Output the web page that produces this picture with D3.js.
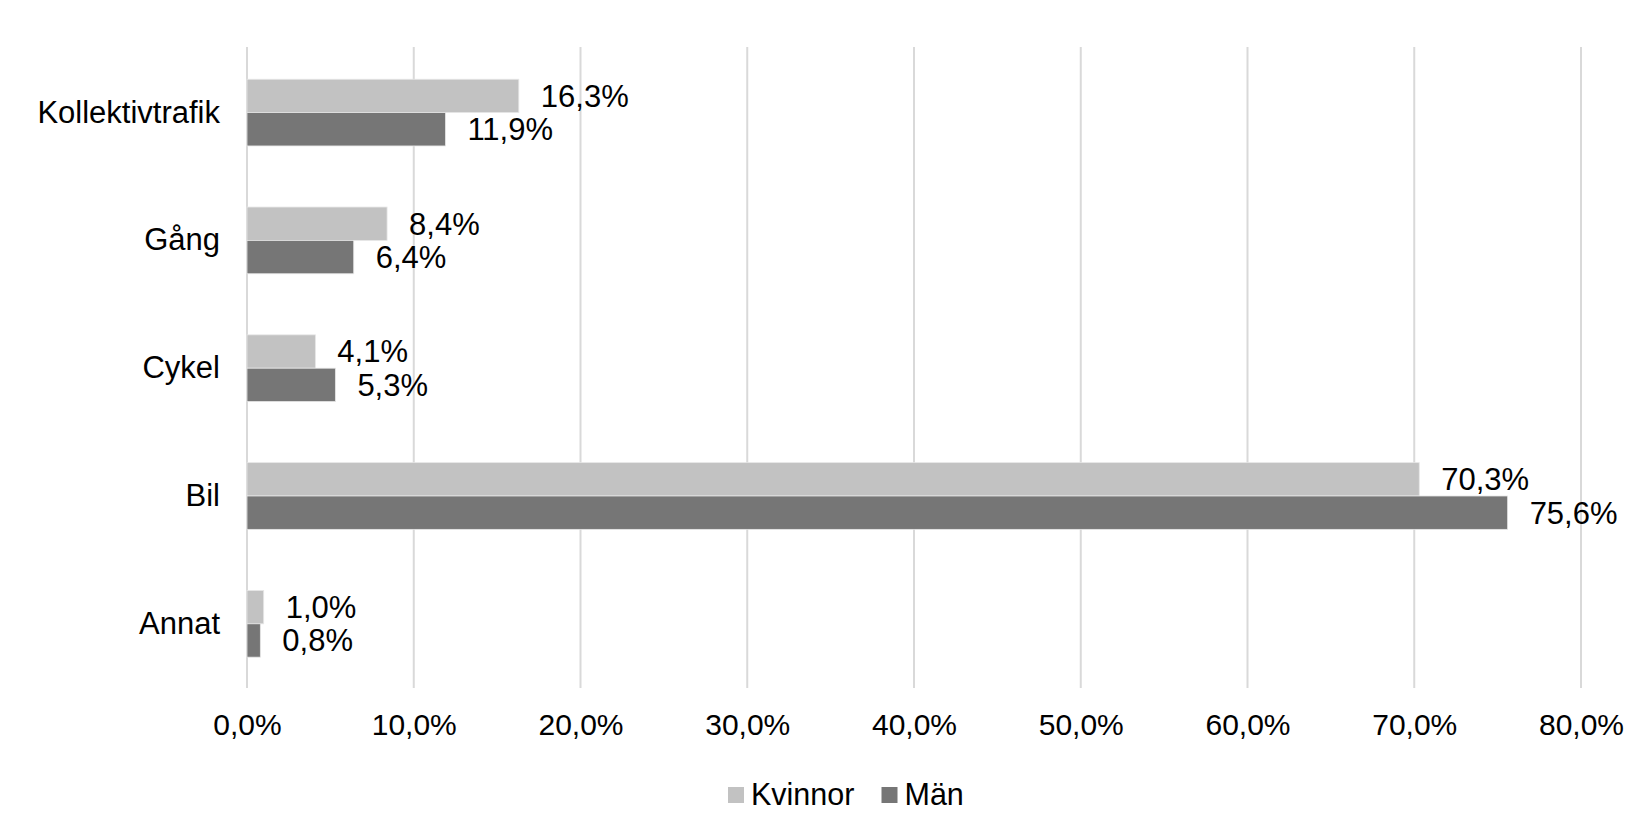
<!DOCTYPE html>
<html>
<head>
<meta charset="utf-8">
<script src="https://cdn.jsdelivr.net/npm/d3@7"></script>
<style>
  html, body { margin: 0; padding: 0; background: #fff; }
  svg { display: block; }
  text { font-family: "Liberation Sans", Arial, sans-serif; fill: #000; }
</style>
</head>
<body>
<svg id="chart" width="1635" height="834"></svg>
<script>
const categories = ["Kollektivtrafik", "Gång", "Cykel", "Bil", "Annat"];
const seriesNames = ["Kvinnor", "Män"];
const kvinnor = [0.163, 0.084, 0.041, 0.703, 0.010];
const man = [0.119, 0.064, 0.053, 0.756, 0.008];
const xTicks = [0, 0.1, 0.2, 0.3, 0.4, 0.5, 0.6, 0.7, 0.8];
const colors = ["#c2c2c2", "#767676"];

const seriesValues = [kvinnor, man];
const svg = d3.select("#chart");
const tickFont = 30;
const labelFont = 31;

const locale = d3.formatLocale({decimal: ",", thousands: " ", grouping: [3], currency: ["", " kr"]});
const pct = locale.format(".1%");

const x = d3.scaleLinear().domain([0, 0.8]).range([247, 1581]);
const y = d3.scaleBand().domain(categories).range([48.7, 687.7])
  .paddingInner(0.478).paddingOuter(0.239);
const y1 = d3.scaleBand().domain(seriesNames).range([0, y.bandwidth()]);

// gridlines
svg.append("g").selectAll("line").data(xTicks).join("line")
  .attr("x1", d => x(d)).attr("x2", d => x(d))
  .attr("y1", 47).attr("y2", 688)
  .attr("stroke", "#d9d9d9").attr("stroke-width", 2);

// x axis labels
const xAxis = d3.axisBottom(x).tickValues(xTicks).tickFormat(pct).tickSize(0).tickPadding(0);
const gx = svg.append("g").attr("transform", "translate(0,724)").call(xAxis);
gx.select(".domain").remove();
gx.selectAll("text").attr("font-size", tickFont).attr("dy", "0.35em")
  .style("font-family", "'Liberation Sans', Arial, sans-serif").attr("fill", "#000");

// y axis labels
const yAxis = d3.axisLeft(y).tickSize(0).tickPadding(0);
const gy = svg.append("g").attr("transform", "translate(220,0)").call(yAxis);
gy.select(".domain").remove();
gy.selectAll("text").attr("font-size", labelFont)
  .style("font-family", "'Liberation Sans', Arial, sans-serif").attr("fill", "#000");

// bars
const rows = [];
categories.forEach((c, i) => {
  seriesNames.forEach((s, j) => rows.push({cat: c, s: s, j: j, v: seriesValues[j][i]}));
});

svg.append("g").selectAll("rect").data(rows).join("rect")
  .attr("x", x(0))
  .attr("y", d => y(d.cat) + y1(d.s))
  .attr("width", d => x(d.v) - x(0))
  .attr("height", y1.bandwidth())
  .attr("fill", d => colors[d.j])
  .attr("stroke", "#e6e6e6").attr("stroke-width", 0.8);

// data labels
svg.append("g").selectAll("text").data(rows).join("text")
  .attr("x", d => x(d.v) + 22)
  .attr("y", d => y(d.cat) + y1(d.s) + y1.bandwidth() / 2)
  .attr("dy", "0.35em")
  .attr("font-size", labelFont)
  .text(d => pct(d.v));

// legend
const legendItems = [{name: "Kvinnor", x: 728}, {name: "Män", x: 881.5}];
const lg = svg.append("g");
legendItems.forEach((it, j) => {
  lg.append("rect").attr("x", it.x).attr("y", 787).attr("width", 16).attr("height", 16)
    .attr("fill", colors[j]);
  lg.append("text").attr("x", it.x + 23).attr("y", 805).attr("font-size", 30.5).text(it.name);
});
</script>
</body>
</html>
